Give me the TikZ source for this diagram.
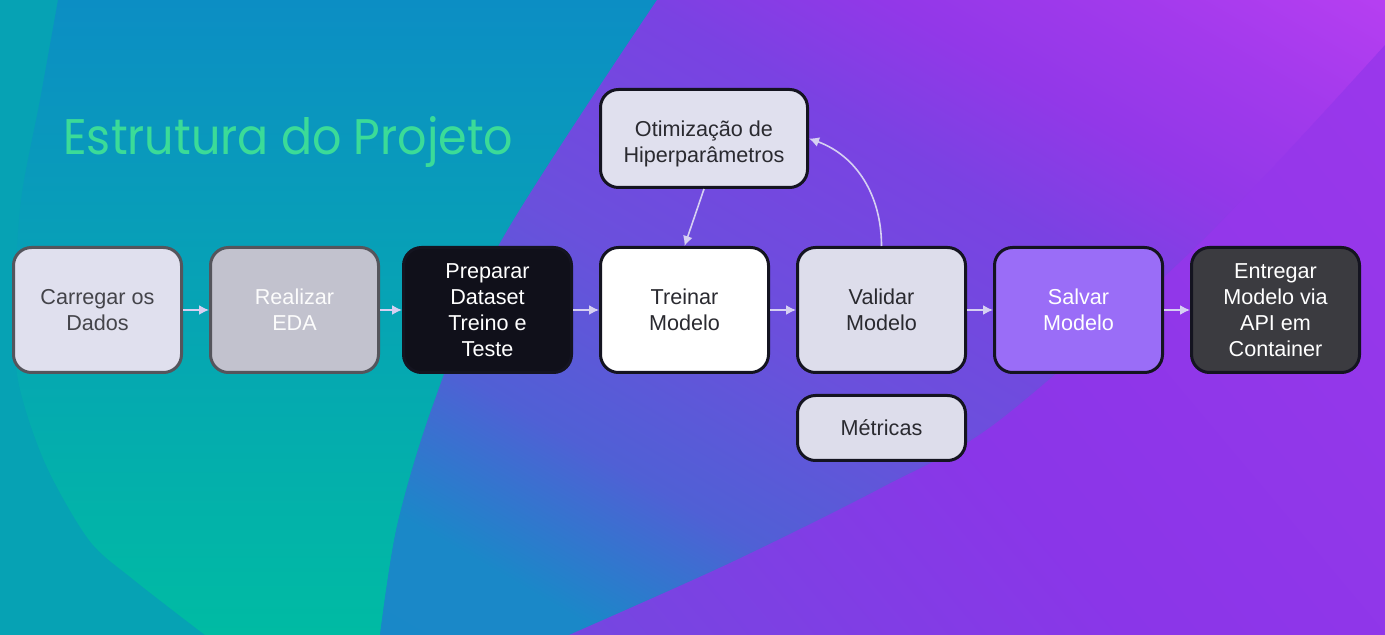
\documentclass[tikz,border=0pt]{standalone}
\usepackage{fontspec}
\setmainfont{Liberation Sans}
\newfontfamily\titlefont{Poppins}[FakeStretch=0.92]
\usetikzlibrary{arrows.meta}
\newcommand\stagefont{\fontsize{10.8pt}{12.9pt}\selectfont}
\definecolor{bgteal}{HTML}{06A2B4}
\definecolor{blobtop}{HTML}{0C8EC4}
\definecolor{blobbot}{HTML}{00BBA3}
\definecolor{bandA}{HTML}{1888C8}
\definecolor{bandB}{HTML}{1A88C8}
\definecolor{bandC}{HTML}{5060D5}
\definecolor{bandD}{HTML}{6A50DC}
\definecolor{bandE}{HTML}{7A42E2}
\definecolor{bandF}{HTML}{9238E8}
\definecolor{bandG}{HTML}{A23AEC}
\definecolor{bandH}{HTML}{BA40F2}
\definecolor{waveA}{HTML}{6A4FDC}
\definecolor{waveB}{HTML}{8A36E8}
\definecolor{waveC}{HTML}{A038EC}
\definecolor{titlegreen}{HTML}{3BDB98}
\definecolor{arrowc}{HTML}{D6D0F2}
\definecolor{edgegray}{HTML}{55555C}
\definecolor{edgedark}{HTML}{141420}
\definecolor{loadfill}{HTML}{E0E0EE}
\definecolor{edafill}{HTML}{C2C2CE}
\definecolor{prepfill}{HTML}{10101A}
\definecolor{valfill}{HTML}{DDDDEB}
\definecolor{savefill}{HTML}{9A6DF7}
\definecolor{deliverfill}{HTML}{3B3B40}
\definecolor{darktext}{HTML}{2A2A30}
\pgfdeclarehorizontalshading{bandshade}{100bp}{color(0bp)=(bandA); color(23bp)=(bandB); color(33bp)=(bandC); color(45bp)=(bandD); color(60bp)=(bandE); color(68bp)=(bandF); color(76bp)=(bandG); color(86bp)=(bandH); color(100bp)=(bandH)}
\pgfdeclarehorizontalshading{waveshade}{100bp}{color(0bp)=(waveA); color(45bp)=(waveB); color(100bp)=(waveC)}
\begin{document}
\begin{tikzpicture}[x=0.5pt,y=-0.5pt,
  stage/.style={draw=edgedark,rounded corners=9pt,line width=1.5pt,minimum width=84pt,minimum height=62.5pt,align=center,font=\stagefont,inner sep=2pt,text=darktext},
  flow/.style={-{Latex[length=5pt,width=5pt]},draw=arrowc,line width=0.8pt}]
\useasboundingbox(0,0)rectangle(1385,635);
\fill[bgteal](0,0)rectangle(1385,635);
\shade[top color=blobtop,bottom color=blobbot]plot[smooth]coordinates{(58,0)(40,100)(21,200)(15,300)(18,380)(45,463)(89,540)(134,580)(205,635)}--(380,635)--plot[smooth]coordinates{(380,635)(397,526)(433,405)(500,243)(657,0)}--cycle;
\shade[shading=bandshade,shading angle=60]plot[smooth]coordinates{(657,0)(500,243)(433,405)(397,526)(380,635)}--(1385,635)--(1385,0)--cycle;
\shade[shading=waveshade,shading angle=40]plot[smooth]coordinates{(569,635)(730,563)(883,487)(1000,420)(1200,243)(1385,45)}--(1385,635)--cycle;
\node[anchor=base west,text=titlegreen,font=\titlefont\fontsize{25pt}{28pt}\selectfont,inner sep=0](titulo)at(63,155){Estrutura do Projeto};
\node[stage,draw=edgegray,fill=loadfill,text=edgegray!80!black](carregar)at(97.5,310){Carregar os\\Dados};
\node[stage,draw=edgegray,fill=edafill,text=white!95!edafill](eda)at(294.5,310){Realizar\\EDA};
\node[stage,fill=prepfill,text=white](preparar)at(487.5,310){Preparar\\Dataset\\Treino e\\Teste};
\node[stage,fill=white](treinar)at(684.5,310){Treinar\\Modelo};
\node[stage,fill=valfill](validar)at(881.5,310){Validar\\Modelo};
\node[stage,fill=savefill,text=white](salvar)at(1078.5,310){Salvar\\Modelo};
\node[stage,fill=deliverfill,text=white](entregar)at(1275.5,310){Entregar\\Modelo via\\API em\\Container};
\node[stage,fill=loadfill,minimum width=103.5pt,minimum height=49pt,text height=25.8pt](otimizacao)at(704,138.5){Otimização de\\Hiperparâmetros};
\node[stage,fill=valfill,minimum height=32.5pt](metricas)at(881.5,428){Métricas};
\draw[flow](carregar)--(eda);
\draw[flow](eda)--(preparar);
\draw[flow](preparar)--(treinar);
\draw[flow](treinar)--(validar);
\draw[flow](validar)--(salvar);
\draw[flow](salvar)--(entregar);
\draw[flow](otimizacao.south)--(treinar.north);
\draw[flow](validar.north)to[out=90,in=-20](otimizacao.east);
\end{tikzpicture}
\end{document}
